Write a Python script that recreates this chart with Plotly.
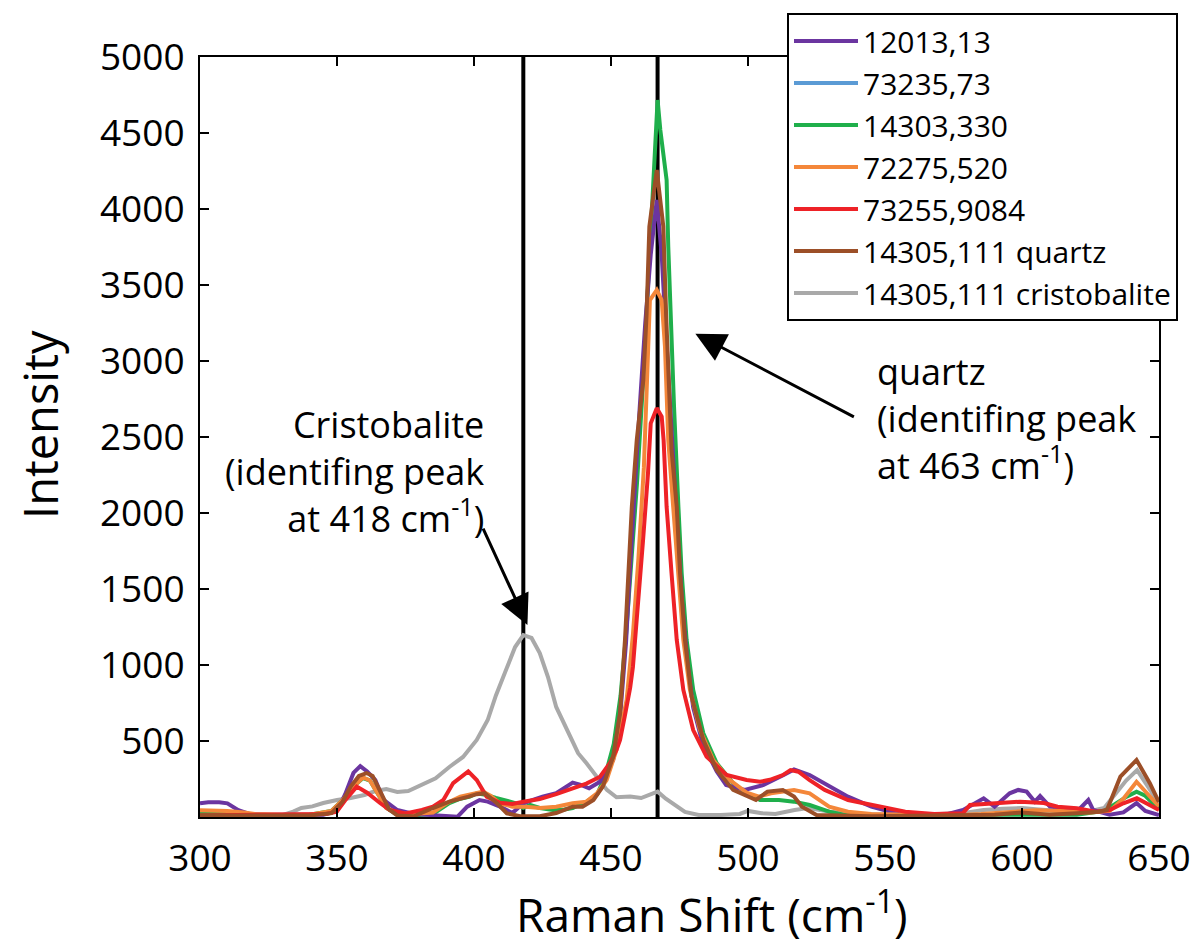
import plotly.graph_objects as go

# ---------------- data ----------------
x_ticks = [300, 350, 400, 450, 500, 550, 600, 650]
y_ticks = [500, 1000, 1500, 2000, 2500, 3000, 3500, 4000, 4500, 5000]
ref_lines = [418, 467]

names = ["12013,13", "73235,73", "14303,330", "72275,520", "73255,9084",
         "14305,111 quartz", "14305,111 cristobalite"]
colors = ["#6B35A0", "#5B9BD5", "#1FAF4B", "#F4873A", "#EE2227", "#9C4F28", "#A9A9A9"]

purple_x = [300, 303, 307, 310, 314, 318, 325, 335, 345, 350, 353, 356, 358.5, 361, 364, 367,
            372, 378, 385, 390, 394, 397.5, 402, 405, 409.5, 414, 418, 421.5, 425, 430, 436, 439,
            442, 446, 450.8, 453.5, 455.5, 457, 458.5, 460.5, 462.5, 464.5, 466.7, 468.5, 470,
            471.5, 473, 474.5, 476, 478, 480, 483.5, 488.6, 492, 498.8, 505.7, 513, 516.8, 522.5,
            528, 536.5, 545, 555, 565, 572, 578.5, 586, 590, 595.5, 598.6, 601.7, 604.7, 606.6,
            610.2, 616, 620, 624.2, 626, 632, 637, 641.8, 645, 649, 650]
purple_y = [90, 97, 97, 90, 45, 20, 15, 12, 15, 40, 150, 290, 335, 300, 243, 112,
            46, 20, 10, 5, 2, 68, 112, 101, 68, 26, 90, 112, 134, 156, 226, 211,
            189, 232, 375, 700, 1150, 1650, 2150, 2700, 3250, 3700, 4059, 3700, 3200,
            2700, 2200, 1800, 1400, 1000, 720, 480, 300, 211, 178, 211, 276, 313, 276,
            223, 134, 68, 20, 12, 15, 46, 123, 68, 156, 178, 167, 101, 138,
            68, 57, 35, 112, 46, 15, 30, 92, 40, 15, 13]

blue_x = [None]
blue_y = [None]

green_x = [300, 310, 320, 330, 340, 348, 352, 356, 359.5, 362, 365, 368, 372, 378, 385, 391,
           395, 398.5, 401, 404.6, 408, 411, 415, 418, 420.4, 424, 428.8, 433, 436, 441, 445,
           448, 451, 453.5, 455.5, 457.5, 459.5, 461.5, 463, 464.5, 465.8, 467, 468, 469.5,
           470.3, 470.9, 472.1, 473, 474.6, 475.8, 477.6, 480, 483.7, 488.6, 494.6, 499.5,
           504.4, 511.3, 516.8, 522.5, 529.6, 535, 545, 560, 575, 590, 605, 620, 630, 635,
           638.2, 641.8, 645, 649, 650]
green_y = [30, 20, 15, 12, 15, 40, 110, 200, 256, 240, 150, 60, 15, 10, 20, 92,
           120, 134, 156, 145, 125, 112, 92, 59, 79, 59, 46, 50, 59, 100, 150,
           280, 480, 800, 1200, 1700, 2200, 2800, 3300, 3884, 4300, 4717, 4520, 4300,
           4190, 3752, 3094, 2700, 2041, 1603, 1164, 836, 551, 353, 222, 156,
           112, 112, 101, 79, 35, 15, 10, 8, 10, 15, 12, 15, 40, 100,
           134, 167, 140, 68, 55]

orange_x = [300, 305, 310, 316, 320, 330, 340, 348, 352, 356, 359.5, 362, 365, 368, 372, 378,
            385, 390, 395, 398, 401, 403.3, 406, 409.5, 414, 418.8, 424, 430, 436, 441, 444.9,
            448.4, 452, 455.7, 458, 460, 462, 463, 464.2, 466.7, 468.5, 469.7, 470.9, 472.7,
            474.6, 476.4, 478.8, 482.5, 487.3, 493.4, 499.5, 504, 508.4, 512, 516.8, 522.5,
            529.6, 536.5, 545, 560, 575, 585, 595, 605, 615, 625, 632, 637, 641.8, 646, 650]
orange_y = [45, 45, 40, 30, 20, 15, 15, 40, 110, 200, 260, 240, 150, 60, 25, 20,
            30, 90, 134, 145, 156, 167, 140, 90, 68, 68, 59, 68, 90, 101, 156,
            243, 441, 770, 1200, 1700, 2300, 2875, 3401, 3467, 3401, 3094, 2480, 2041,
            1603, 1164, 836, 572, 375, 243, 160, 134, 156, 165, 178, 156,
            68, 35, 20, 15, 12, 20, 35, 45, 40, 30, 40, 120, 232, 150, 70]

red_x = [300, 310, 320, 330, 340, 346, 349.9, 353, 357.2, 361, 365.7, 369.3, 375, 381, 385,
         388.8, 392.4, 395, 397.9, 401, 404.6, 409.5, 414, 418, 424, 430, 436, 441, 446, 449.6,
         452, 453.3, 455, 457, 458, 459.9, 461.7, 463.5, 464.5, 466.7, 468.5, 469.2, 470.3,
         472.1, 474, 476.4, 480, 484.9, 492.2, 499.5, 504.4, 508, 512.7, 515.5, 518.4, 522.5,
         528, 536.5, 547.6, 557.4, 568, 578.4, 581, 586, 592.3, 599.3, 608, 613, 620, 627,
         632, 637, 641.9, 646.7, 650]
red_y = [10, 12, 10, 12, 15, 20, 35, 110, 200, 160, 92, 46, 24, 46, 68,
         112, 223, 260, 300, 243, 134, 94, 85, 100, 118, 150, 190, 220, 265, 355,
         441, 507, 660, 850, 987, 1384, 1822, 2261, 2590, 2690, 2634, 2480, 2041,
         1603, 1164, 836, 572, 397, 276, 243, 232, 245, 276, 309, 298, 243,
         178, 112, 68, 35, 20, 24, 79, 85, 92, 101, 92, 68, 57, 35,
         46, 90, 123, 79, 46]

brown_x = [300, 310, 320, 330, 340, 348, 352, 355, 358, 360.8, 363, 366, 369, 372, 378, 385,
           391, 398, 401, 404, 408.4, 412, 416.8, 424, 430, 436, 439.6, 443.6, 447, 450.8,
           453.3, 455.1, 456.3, 457.6, 459.4, 461.8, 463, 464, 466.7, 469.1, 470.1, 471,
           472.1, 474, 475.2, 477, 479.4, 483.7, 488.6, 494.6, 500.7, 502.9, 507.1, 512.7,
           516.8, 519.7, 525, 535, 545, 560, 575, 590, 600, 610, 620, 628, 631, 635.9, 641.8,
           646.7, 649.6, 650]
brown_y = [10, 10, 10, 8, 10, 25, 100, 200, 270, 289, 270, 160, 50, 10, 5, 59,
           101, 134, 150, 156, 90, 24, 5, 5, 26, 68, 68, 112, 200, 397,
           680, 1164, 1603, 2041, 2480, 2875, 3313, 3884, 4257, 3884, 3313, 2875,
           2415, 2041, 1603, 1164, 792, 507, 309, 178, 134, 112, 167, 178,
           134, 68, 13, 8, 5, 8, 10, 15, 30, 15, 25, 35, 46, 265, 375,
           221, 112, 100]

gray_x = [300, 310, 320, 330, 334, 337, 341, 345, 350, 355, 360, 364, 368, 372, 376, 381, 386,
          391, 396, 401, 405, 408, 412, 415, 418, 421, 424, 427, 430, 434, 438, 441, 445, 448.5,
          452, 457, 461, 464, 467, 470, 473.5, 477, 482, 490, 497, 500, 505, 510, 517, 522,
          530, 540, 550, 560, 570, 580, 586, 593, 600, 606, 612, 618, 624, 630, 634, 638, 642,
          646, 650]
gray_y = [15, 12, 10, 12, 35, 59, 70, 92, 112, 125, 145, 171, 184, 165, 171, 210, 255,
          329, 395, 507, 638, 800, 987, 1118, 1197, 1178, 1079, 921, 724, 572, 420, 355, 263, 178,
          130, 135, 125, 145, 167, 120, 80, 33, 13, 13, 20, 40, 25, 20, 46, 59,
          35, 20, 15, 15, 20, 30, 46, 55, 59, 50, 40, 35, 35, 60, 150, 240, 309,
          200, 90]

series = {
    "gray": (gray_x, gray_y, 6),
    "blue": (blue_x, blue_y, 1),
    "green": (green_x, green_y, 2),
    "purple": (purple_x, purple_y, 0),
    "orange": (orange_x, orange_y, 3),
    "red": (red_x, red_y, 4),
    "brown": (brown_x, brown_y, 5),
}

FONT = "Open Sans, Noto Sans, sans-serif"

fig = go.Figure()
for key, (xs, ys, idx) in series.items():
    fig.add_trace(go.Scatter(
        x=xs, y=ys, mode="lines", name=names[idx],
        line=dict(color=colors[idx], width=4),
        legendrank=idx + 1, legendgroup=names[idx],
    ))

for xv in ref_lines:
    fig.add_shape(type="line", x0=xv, x1=xv, y0=0, y1=5000, xref="x", yref="y",
                  line=dict(color="black", width=4), layer="below")

fig.update_xaxes(range=[300, 650], tickvals=x_ticks, ticks="inside", ticklen=9, tickwidth=2,
                 tickcolor="black", showline=True, linewidth=2, linecolor="black",
                 mirror="ticks", showgrid=False, zeroline=False, ticklabeloverflow="allow",
                 automargin=False,
                 tickfont=dict(family=FONT, size=37, color="black"), ticklabelstandoff=8)
fig.update_yaxes(range=[0, 5000], tickvals=y_ticks, ticks="inside", ticklen=9, tickwidth=2,
                 tickcolor="black", showline=True, linewidth=2, linecolor="black",
                 mirror="ticks", showgrid=False, zeroline=False, automargin=False,
                 tickfont=dict(family=FONT, size=37, color="black"), ticklabelstandoff=6)

annotations = [
    dict(text="Raman Shift (cm<sup>-1</sup>)", xref="paper", yref="paper",
         x=(712 - 200) / 959, y=(817 - 912) / 760, xanchor="center", yanchor="middle",
         showarrow=False, font=dict(family=FONT, size=46, color="black")),
    dict(text="Intensity", xref="paper", yref="paper", textangle=-90,
         x=(40 - 200) / 959, y=(817 - 425) / 760, xanchor="center", yanchor="middle",
         showarrow=False, font=dict(family=FONT, size=47, color="black")),
    dict(text="quartz<br>(identifing peak<br>at 463 cm<sup>-1</sup>)", xref="x", yref="y",
         x=546.3, y=2625, xanchor="left", yanchor="middle", align="left",
         showarrow=False, font=dict(family=FONT, size=36, color="black")),
    dict(text="Cristobalite<br>(identifing peak<br>at 418 cm<sup>-1</sup>)", xref="x", yref="y",
         x=404.2, y=2270, xanchor="right", yanchor="middle", align="right",
         showarrow=False, font=dict(family=FONT, size=36, color="black")),
    dict(text="", xref="x", yref="y", x=480.8, y=3180, ax=160, ay=84,
         showarrow=True, arrowhead=2, arrowsize=2.0, arrowwidth=3, arrowcolor="black"),
    dict(text="", xref="x", yref="y", x=419.5, y=1263, ax=-45, ay=-98,
         showarrow=True, arrowhead=2, arrowsize=2.0, arrowwidth=3, arrowcolor="black"),
]

fig.update_layout(
    width=1190, height=949,
    margin=dict(l=200, r=31, t=57, b=132, autoexpand=False),
    paper_bgcolor="white", plot_bgcolor="white",
    font=dict(family=FONT, color="black"),
    annotations=annotations,
    showlegend=True,
    legend=dict(x=(787 - 200) / 959, y=(817 - 13) / 760, xanchor="left", yanchor="top",
                bgcolor="white", bordercolor="black", borderwidth=2,
                font=dict(family=FONT, size=30, color="black"),
                tracegroupgap=0, itemwidth=64),
)

fig.write_html("out.html")
